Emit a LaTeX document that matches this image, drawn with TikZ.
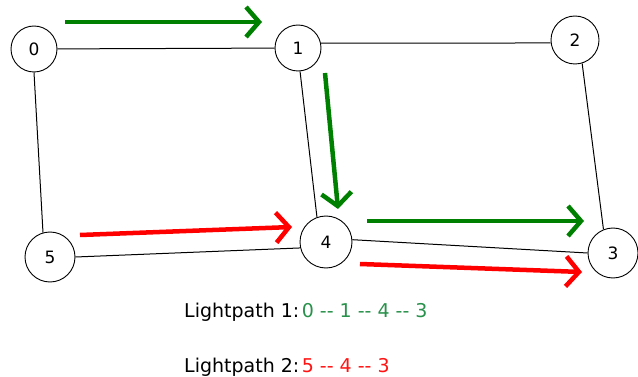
\documentclass[tikz,border=0pt]{standalone}
\usepackage{fontspec}
\setmainfont{DejaVu Sans}
\usetikzlibrary{arrows.meta}
\definecolor{pathgreen}{RGB}{0,128,0}
\definecolor{pathred}{RGB}{255,0,0}
\definecolor{txtgreen}{RGB}{40,145,75}
\definecolor{txtred}{RGB}{255,20,20}
\tikzset{
  vtx/.style={circle,draw=black,line width=0.9pt,inner sep=0pt,minimum size=46pt,font=\fontsize{17}{19}\selectfont},
  link/.style={draw=black,line width=1pt},
  lp/.style={line width=4.5pt,-{Straight Barb[length=13pt,width=30pt,line width=4.5pt]}},
  lab/.style={anchor=base west,inner sep=0pt,font=\fontsize{19}{22}\selectfont}
}
\begin{document}
\begin{tikzpicture}[x=1pt,y=-1pt]
\useasboundingbox (0,0) rectangle (638,377);
\node[vtx] (n0) at (34,49) {0};
\node[vtx] (n1) at (298,48) {1};
\node[vtx,minimum size=48pt] (n2) at (575,40) {2};
\node[vtx,minimum size=50pt] (n5) at (50,257) {5};
\node[vtx,minimum size=52pt] (n4) at (326,242) {4};
\node[vtx,minimum size=50pt] (n3) at (613,253) {3};
\draw[link] (n0) -- (n1);
\draw[link] (n1.12) -- (n2.187);
\draw[link] (n0.-90) -- (n5.106);
\draw[link] (n1.-85) -- (n4.110);
\draw[link] (n2.-73) -- (n3.112);
\draw[link] (n5.0) -- (n4.193);
\draw[link] (n4.5) -- (n3.180);
\coordinate (g1a) at (65,22);  \coordinate (g1b) at (262,22);
\coordinate (g2a) at (325,73); \coordinate (g2b) at (338,209);
\coordinate (g3a) at (367,221); \coordinate (g3b) at (584,221);
\coordinate (r1a) at (80,235); \coordinate (r1b) at (292,227);
\coordinate (r2a) at (360,264); \coordinate (r2b) at (582,272);
\draw[lp,draw=pathgreen] (g1a) -- (g1b);
\draw[lp,draw=pathgreen] (g2a) -- (g2b);
\draw[lp,draw=pathgreen] (g3a) -- (g3b);
\draw[lp,draw=pathred] (r1a) -- (r1b);
\draw[lp,draw=pathred] (r2a) -- (r2b);
\node[lab] (t1) at (184,317) {Lightpath 1:\hspace{2.5pt}\textcolor{txtgreen}{0 -{}- 1 -{}- 4 -{}- 3}};
\node[lab] (t2) at (184,372) {Lightpath 2:\hspace{2.5pt}\textcolor{txtred}{5 -{}- 4 -{}- 3}};
\end{tikzpicture}
\end{document}
